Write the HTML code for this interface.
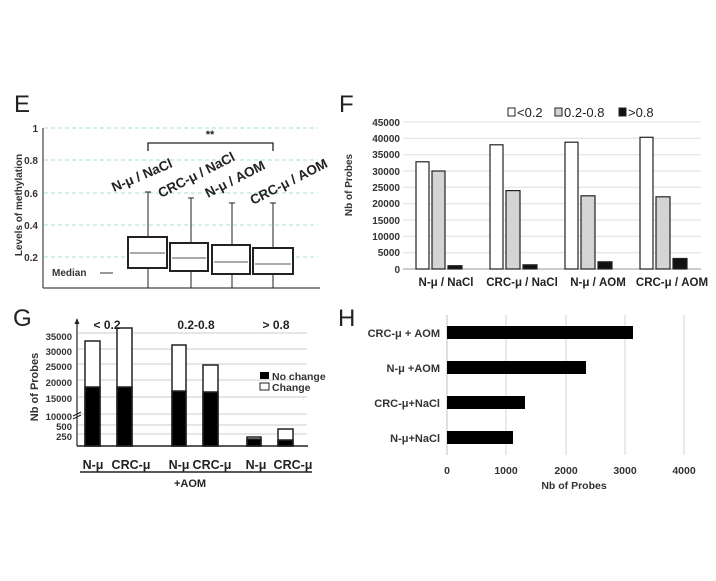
<!DOCTYPE html>
<html><head><meta charset="utf-8"><style>
html,body{margin:0;padding:0;background:#fff;}
svg{display:block;font-family:"Liberation Sans",Arial,sans-serif;}
.b{font-weight:bold;}
</style></head><body>
<svg width="716" height="581" viewBox="0 0 716 581" xmlns="http://www.w3.org/2000/svg">
<rect width="716" height="581" fill="#fff"/>
<!-- Panel E -->
<text x="14" y="112" font-size="24" fill="#222">E</text>
<g stroke="#a8dcd8" stroke-width="1" stroke-dasharray="4,3">
<line x1="44" y1="128" x2="318" y2="128"/><line x1="44" y1="160" x2="318" y2="160"/>
<line x1="44" y1="193" x2="318" y2="193"/><line x1="44" y1="225" x2="318" y2="225"/>
<line x1="44" y1="257" x2="318" y2="257"/>
</g>
<line x1="43" y1="128" x2="43" y2="288" stroke="#444" stroke-width="1.2"/>
<line x1="43" y1="288" x2="320" y2="288" stroke="#444" stroke-width="1.2"/>
<g font-size="10" class="b" fill="#333" text-anchor="end">
<text x="38" y="132">1</text><text x="38" y="164">0.8</text><text x="38" y="197">0.6</text>
<text x="38" y="229">0.4</text><text x="38" y="261">0.2</text>
</g>
<text transform="translate(22,205) rotate(-90)" font-size="10" class="b" fill="#333" text-anchor="middle">Levels of methylation</text>
<text x="52" y="276" font-size="10" class="b" fill="#333">Median</text>
<line x1="100" y1="273" x2="113" y2="273" stroke="#555" stroke-width="1.2"/>
<g stroke="#222" fill="none" stroke-width="1">
<line x1="148" y1="192" x2="148" y2="288"/><line x1="145" y1="192" x2="151" y2="192"/>
<rect x="128" y="237" width="39" height="31" stroke-width="2" fill="#fff"/>
<line x1="130" y1="253" x2="165" y2="253" stroke="#555"/>
<line x1="191" y1="198" x2="191" y2="288"/><line x1="188" y1="198" x2="194" y2="198"/>
<rect x="170" y="243" width="38" height="28" stroke-width="2" fill="#fff"/>
<line x1="172" y1="258" x2="206" y2="258" stroke="#555"/>
<line x1="232" y1="203" x2="232" y2="288"/><line x1="229" y1="203" x2="235" y2="203"/>
<rect x="212" y="245" width="38" height="29" stroke-width="2" fill="#fff"/>
<line x1="214" y1="262" x2="248" y2="262" stroke="#555"/>
<line x1="273" y1="203" x2="273" y2="288"/><line x1="270" y1="203" x2="276" y2="203"/>
<rect x="253" y="248" width="40" height="26" stroke-width="2" fill="#fff"/>
<line x1="255" y1="264" x2="291" y2="264" stroke="#555"/>
<polyline points="148,151 148,143 273,143 273,151" stroke-width="1.3"/>
</g>
<text x="210" y="138" font-size="11" class="b" text-anchor="middle" fill="#222">**</text>
<g font-size="13.5" class="b" fill="#222">
<text transform="translate(114,192) rotate(-23)">N-μ / NaCl</text>
<text transform="translate(161,198) rotate(-27)">CRC-μ / NaCl</text>
<text transform="translate(208,198) rotate(-27)">N-μ / AOM</text>
<text transform="translate(253,205) rotate(-27)">CRC-μ / AOM</text>
</g>
<!-- Panel F -->
<text x="339" y="112" font-size="24" fill="#222">F</text>
<g stroke="#ddd" stroke-width="1">
<line x1="403" y1="122" x2="701" y2="122"/><line x1="403" y1="138.3" x2="701" y2="138.3"/>
<line x1="403" y1="154.7" x2="701" y2="154.7"/><line x1="403" y1="171" x2="701" y2="171"/>
<line x1="403" y1="187.3" x2="701" y2="187.3"/><line x1="403" y1="203.7" x2="701" y2="203.7"/>
<line x1="403" y1="220" x2="701" y2="220"/><line x1="403" y1="236.3" x2="701" y2="236.3"/>
<line x1="403" y1="252.7" x2="701" y2="252.7"/>
</g>
<line x1="403" y1="269" x2="701" y2="269" stroke="#999" stroke-width="1"/>
<g font-size="10" class="b" fill="#333" text-anchor="end">
<text x="400" y="126">45000</text><text x="400" y="142">40000</text><text x="400" y="158">35000</text>
<text x="400" y="175">30000</text><text x="400" y="191">25000</text><text x="400" y="207">20000</text>
<text x="400" y="224">15000</text><text x="400" y="240">10000</text><text x="400" y="256">5000</text>
<text x="400" y="273">0</text>
</g>
<text transform="translate(352,185) rotate(-90)" font-size="10" class="b" fill="#333" text-anchor="middle">Nb of Probes</text>
<g stroke="#222" stroke-width="1.2">
<rect x="416" y="161.8" width="13" height="107.2" fill="#fff"/>
<rect x="432" y="171" width="13" height="98" fill="#d4d4d4"/>
<rect x="448" y="265.7" width="14" height="3.3" fill="#111"/>
<rect x="490" y="144.8" width="13" height="124.2" fill="#fff"/>
<rect x="506" y="190.6" width="14" height="78.4" fill="#d4d4d4"/>
<rect x="523" y="264.8" width="14" height="4.2" fill="#111"/>
<rect x="565" y="142.2" width="13" height="126.8" fill="#fff"/>
<rect x="581" y="195.8" width="14" height="73.2" fill="#d4d4d4"/>
<rect x="598" y="261.8" width="14" height="7.2" fill="#111"/>
<rect x="640" y="137.3" width="13" height="131.7" fill="#fff"/>
<rect x="656" y="196.8" width="14" height="72.2" fill="#d4d4d4"/>
<rect x="673" y="258.5" width="14" height="10.5" fill="#111"/>
</g>
<g font-size="11.5" class="b" fill="#222" text-anchor="middle">
<text x="446" y="286">N-μ / NaCl</text><text x="522" y="286">CRC-μ / NaCl</text>
<text x="598" y="286">N-μ / AOM</text><text x="672" y="286">CRC-μ / AOM</text>
</g>
<g font-size="13" fill="#222">
<rect x="508" y="108" width="7" height="8" fill="#fff" stroke="#222"/><text x="517" y="117">&lt;0.2</text>
<rect x="555" y="108" width="7" height="8" fill="#d4d4d4" stroke="#222"/><text x="564" y="117">0.2-0.8</text>
<rect x="619" y="108" width="7" height="8" fill="#111" stroke="#222"/><text x="628" y="117">&gt;0.8</text>
</g>
<!-- Panel G -->
<text x="13" y="326" font-size="24" fill="#222">G</text>
<g stroke="#ccc" stroke-width="1">
<line x1="78" y1="333" x2="307" y2="333"/><line x1="78" y1="349" x2="307" y2="349"/>
<line x1="78" y1="364" x2="307" y2="364"/><line x1="78" y1="380" x2="307" y2="380"/>
<line x1="78" y1="397" x2="307" y2="397"/><line x1="78" y1="414" x2="307" y2="414"/>
<line x1="78" y1="425" x2="307" y2="425"/><line x1="78" y1="434" x2="307" y2="434"/>
</g>
<line x1="77" y1="322" x2="77" y2="446" stroke="#222" stroke-width="1.2"/>
<polygon points="77,318 74.5,324 79.5,324" fill="#222"/>
<line x1="77" y1="446" x2="308" y2="446" stroke="#222" stroke-width="1.5"/>
<line x1="73" y1="419" x2="81" y2="415" stroke="#222"/><line x1="73" y1="416" x2="81" y2="412" stroke="#222"/>
<g font-size="9.5" class="b" fill="#333" text-anchor="end">
<text x="72" y="340">35000</text><text x="72" y="355">30000</text><text x="72" y="370">25000</text>
<text x="72" y="386">20000</text><text x="72" y="402">15000</text><text x="72" y="420">10000</text>
<text x="72" y="430">500</text><text x="72" y="440">250</text>
</g>
<text transform="translate(38,387) rotate(-90)" font-size="11" class="b" fill="#333" text-anchor="middle">Nb of Probes</text>
<g stroke="#222" stroke-width="1.5">
<rect x="85" y="341" width="15" height="105" fill="#fff"/><rect x="85" y="387" width="15" height="59" fill="#000"/>
<rect x="117" y="328" width="15" height="118" fill="#fff"/><rect x="117" y="387" width="15" height="59" fill="#000"/>
<rect x="172" y="345" width="14" height="101" fill="#fff"/><rect x="172" y="391" width="14" height="55" fill="#000"/>
<rect x="203" y="365" width="15" height="81" fill="#fff"/><rect x="203" y="392" width="15" height="54" fill="#000"/>
<rect x="247" y="437" width="14" height="9" fill="#fff"/><rect x="247" y="439" width="14" height="7" fill="#000"/>
<rect x="278" y="429" width="15" height="17" fill="#fff"/><rect x="278" y="440" width="15" height="6" fill="#000"/>
</g>
<g font-size="12" class="b" fill="#222" text-anchor="middle">
<text x="107" y="329">&lt; 0.2</text><text x="196" y="329">0.2-0.8</text><text x="276" y="329">&gt; 0.8</text>
</g>
<rect x="260" y="372" width="9" height="7" fill="#000"/>
<rect x="260" y="383" width="9" height="7" fill="#fff" stroke="#222"/>
<g font-size="10.5" class="b" fill="#333"><text x="272" y="380">No change</text><text x="272" y="391">Change</text></g>
<g font-size="12.5" class="b" fill="#222" text-anchor="middle">
<text x="93" y="469">N-μ</text><text x="131" y="469">CRC-μ</text>
<text x="179" y="469">N-μ</text><text x="212" y="469">CRC-μ</text>
<text x="256" y="469">N-μ</text><text x="293" y="469">CRC-μ</text>
</g>
<line x1="80" y1="472" x2="312" y2="472" stroke="#222" stroke-width="1.5"/>
<text x="190" y="487" font-size="11" class="b" fill="#222" text-anchor="middle">+AOM</text>
<!-- Panel H -->
<text x="338" y="326" font-size="24" fill="#222">H</text>
<g stroke="#ddd" stroke-width="1.2">
<line x1="506" y1="315" x2="506" y2="455"/><line x1="566" y1="315" x2="566" y2="455"/>
<line x1="625" y1="315" x2="625" y2="455"/><line x1="684" y1="315" x2="684" y2="455"/>
</g>
<line x1="447" y1="315" x2="447" y2="455" stroke="#ccc" stroke-width="1.2"/>
<g fill="#000">
<rect x="447" y="326" width="186" height="13"/><rect x="447" y="361" width="139" height="13"/>
<rect x="447" y="396" width="78" height="13"/><rect x="447" y="431" width="66" height="13"/>
</g>
<g font-size="11" class="b" fill="#333" text-anchor="end">
<text x="440" y="337">CRC-μ + AOM</text><text x="440" y="372">N-μ +AOM</text>
<text x="440" y="407">CRC-μ+NaCl</text><text x="440" y="442">N-μ+NaCl</text>
</g>
<g font-size="10.5" class="b" fill="#333" text-anchor="middle">
<text x="447" y="474">0</text><text x="506" y="474">1000</text><text x="566" y="474">2000</text>
<text x="625" y="474">3000</text><text x="684" y="474">4000</text>
</g>
<text x="574" y="489" font-size="10.5" class="b" fill="#333" text-anchor="middle">Nb of Probes</text>
</svg>
</body></html>
